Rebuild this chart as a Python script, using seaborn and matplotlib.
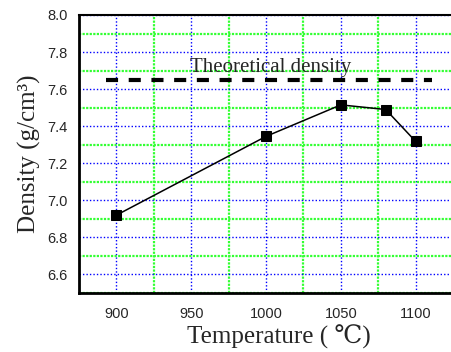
import numpy as np
import matplotlib
matplotlib.use("Agg")
import matplotlib.pyplot as plt
import seaborn as sns
from matplotlib.ticker import MultipleLocator

# Data
temperature = [900, 1000, 1050, 1080, 1100]
density = [6.92, 7.345, 7.515, 7.49, 7.318]
theory_density = 7.65
theory_span = [893, 1111]

sns.set_style("white")
plt.rcParams['font.family'] = ['Liberation Sans', 'DejaVu Sans']
serif = ['Liberation Serif', 'DejaVu Serif']

fig = plt.figure(figsize=(4.52, 3.52), dpi=100)
ax = fig.add_axes([0.1748, 0.1676, 0.8275, 0.7898])

# Grid: blue dotted at majors, green at minors
ax.xaxis.set_major_locator(MultipleLocator(50))
ax.xaxis.set_minor_locator(MultipleLocator(25))
ax.yaxis.set_major_locator(MultipleLocator(0.2))
ax.yaxis.set_minor_locator(MultipleLocator(0.1))
ax.grid(True, which="major", color="#0000ff", linestyle=(0, (1, 1.5)), linewidth=1.0)
ax.grid(True, which="minor", color="#33ff33", linestyle=(0, (1, 0.6)), linewidth=1.6)
ax.set_axisbelow(True)

# Theoretical density line
sns.lineplot(x=theory_span, y=[theory_density, theory_density], ax=ax, color="black",
             linewidth=3.0, linestyle=(0, (2.9, 2.55)), legend=False)
ax.text(949, 7.695, "Theoretical density", fontsize=15, family=serif,
        va="baseline", ha="left")

# Measured density
sns.lineplot(x=temperature, y=density, ax=ax, color="black", linewidth=1.1,
             marker="s", markersize=7, markeredgecolor="black", legend=False)

ax.set_xlim(875, 1125)
ax.set_ylim(6.5, 8.0)
ax.set_yticks([6.6, 6.8, 7.0, 7.2, 7.4, 7.6, 7.8, 8.0])
ax.set_xticks([900, 950, 1000, 1050, 1100])
ax.set_yticklabels(["%.1f" % v for v in ax.get_yticks()])

ax.tick_params(which="both", direction="in", length=4, width=1.2, color="black",
               labelsize=10.5, pad=8)
ax.tick_params(which="minor", length=3)
ax.tick_params(axis="x", pad=10)

for side in ["left", "bottom"]:
    ax.spines[side].set_linewidth(2.0)
    ax.spines[side].set_color("black")
ax.spines["top"].set_linewidth(1.5)
ax.spines["top"].set_color("black")
ax.spines["right"].set_visible(False)

ax.set_xlabel("Temperature ( \u2103)", fontsize=18, family=serif, labelpad=1)
ax.xaxis.set_label_coords(0.535, -0.115)
ax.set_ylabel("Density (g/cm\u00b3)", fontsize=18, family=serif, labelpad=5)

fig.savefig("out.png", dpi=100)
